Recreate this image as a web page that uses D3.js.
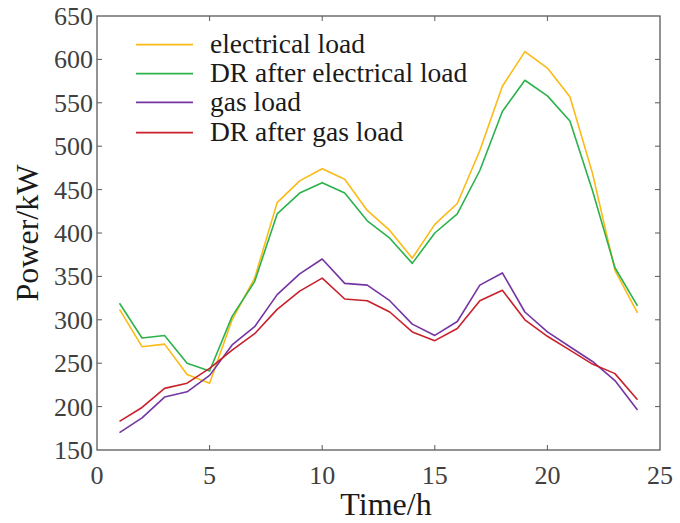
<!DOCTYPE html>
<html>
<head>
<meta charset="utf-8">
<script src="https://cdn.jsdelivr.net/npm/d3@7"></script>
<style>
  html, body { margin: 0; padding: 0; background: #fff; }
  svg { display: block; }
  svg text { font-family: "Liberation Serif", "Times New Roman", serif; }
</style>
</head>
<body>
<div id="chart"></div>
<script>
// hours 1..24
const hours = d3.range(1, 25);
const seriesNames = ["electrical load", "DR after electrical load", "gas load", "DR after gas load"];
const seriesColors = ["#FBBA16", "#2BB24C", "#7435A3", "#C9202B"];

const electrical = [312, 269, 272, 237, 227, 300, 348, 435, 460, 474, 462, 426, 403, 371, 410, 434, 495, 569, 609, 590, 557, 469, 357, 308];
const drElectrical = [319, 279, 282, 250, 241, 304, 344, 422, 446, 458, 446, 414, 394, 365, 400, 422, 472, 540, 576, 558, 529, 449, 360, 316];
const gas = [170, 187, 211, 217, 236, 271, 292, 329, 353, 370, 342, 340, 322, 295, 282, 298, 340, 354, 309, 286, 269, 252, 230, 196];
const drGas = [183, 199, 221, 227, 244, 265, 284, 312, 333, 348, 324, 322, 309, 286, 276, 290, 322, 334, 300, 281, 265, 249, 238, 208];

const xTicks = [0, 5, 10, 15, 20, 25];
const yTicks = [150, 200, 250, 300, 350, 400, 450, 500, 550, 600, 650];

const width = 680, height = 523;
const margin = { top: 16, right: 20, bottom: 73, left: 97 };
const serif = "'Liberation Serif', 'Times New Roman', serif";

const x = d3.scaleLinear().domain([0, 25]).range([margin.left, width - margin.right]);
const y = d3.scaleLinear().domain([150, 650]).range([height - margin.bottom, margin.top]);

const svg = d3.select("#chart").append("svg")
    .attr("width", width)
    .attr("height", height);

const axisColor = "#5a5a5a";
const labelColor = "#404040";
const tickLen = 5;

// frame
svg.append("rect")
    .attr("x", x(0)).attr("y", y(650))
    .attr("width", x(25) - x(0)).attr("height", y(150) - y(650))
    .attr("fill", "none").attr("stroke", axisColor).attr("stroke-width", 1.3);

// inward ticks on all four sides
const ticks = svg.append("g").attr("stroke", axisColor).attr("stroke-width", 1);
xTicks.slice(1, -1).forEach(t => {
    ticks.append("line").attr("x1", x(t)).attr("x2", x(t)).attr("y1", y(150)).attr("y2", y(150) - tickLen);
    ticks.append("line").attr("x1", x(t)).attr("x2", x(t)).attr("y1", y(650)).attr("y2", y(650) + tickLen);
});
yTicks.slice(1, -1).forEach(t => {
    ticks.append("line").attr("x1", x(0)).attr("x2", x(0) + tickLen).attr("y1", y(t)).attr("y2", y(t));
    ticks.append("line").attr("x1", x(25)).attr("x2", x(25) - tickLen).attr("y1", y(t)).attr("y2", y(t));
});

// tick labels
svg.append("g").selectAll("text").data(yTicks).join("text")
    .attr("x", x(0) - 4)
    .attr("y", d => y(d) + 9)
    .attr("text-anchor", "end")
    .attr("font-family", serif)
    .attr("font-size", 26)
    .attr("fill", labelColor)
    .text(d => d);

svg.append("g").selectAll("text").data(xTicks).join("text")
    .attr("x", d => x(d))
    .attr("y", 484)
    .attr("text-anchor", "middle")
    .attr("font-family", serif)
    .attr("font-size", 26)
    .attr("fill", labelColor)
    .text(d => d);

// axis titles
svg.append("text")
    .attr("x", 386).attr("y", 515)
    .attr("text-anchor", "middle")
    .attr("font-family", serif)
    .attr("font-size", 32)
    .attr("fill", "#1a1a1a")
    .text("Time/h");

svg.append("text")
    .attr("transform", `translate(38, ${(y(150) + y(650)) / 2}) rotate(-90)`)
    .attr("text-anchor", "middle")
    .attr("font-family", serif)
    .attr("font-size", 32)
    .attr("fill", "#1a1a1a")
    .text("Power/kW");

// lines
const series = [electrical, drElectrical, gas, drGas];
const line = d3.line().x((d, i) => x(hours[i])).y(d => y(d));

svg.append("g").selectAll("path").data(series).join("path")
    .attr("d", d => line(d))
    .attr("fill", "none")
    .attr("stroke", (d, i) => seriesColors[i])
    .attr("stroke-width", 1.6)
    .attr("stroke-linejoin", "round");

// legend
const legend = svg.append("g");
const legendY = [44.7, 73.7, 102.3, 132.7];
seriesNames.forEach((name, i) => {
    legend.append("line")
        .attr("x1", 136).attr("x2", 193)
        .attr("y1", legendY[i]).attr("y2", legendY[i])
        .attr("stroke", seriesColors[i]).attr("stroke-width", 1.8);
    legend.append("text")
        .attr("x", 210).attr("y", legendY[i] + 8.5)
        .attr("font-family", serif)
        .attr("font-size", 27.5)
        .attr("fill", "#1a1a1a")
        .text(name);
});
</script>
</body>
</html>
